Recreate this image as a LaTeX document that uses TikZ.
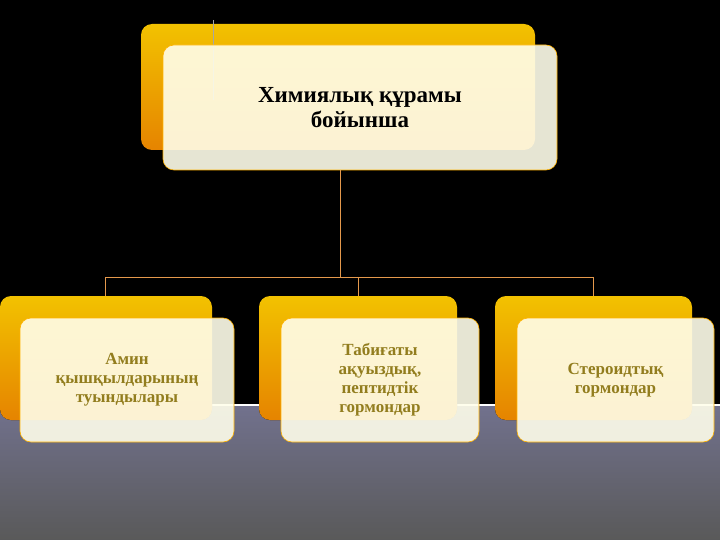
\documentclass[tikz,border=0pt]{standalone}
\usepackage{fontspec}
\setmainfont{Liberation Serif}
\begin{document}
\begin{tikzpicture}[x=1pt,y=-1pt,
  back/.style={rounded corners=11pt,top color=orange!40!yellow!95!black,bottom color=orange!85!yellow!90!black,draw=none},
  card/.style={rounded corners=11pt,fill=white!92!yellow,fill opacity=0.9,draw=orange!60!yellow,line width=0.6pt,text opacity=1,align=center,font=\bfseries},
  conn/.style={draw=orange!50!brown!80!white,line width=0.6pt}]
\useasboundingbox (0,0) rectangle (720,540);
\fill[black] (0,0) rectangle (720,405);
\shade[top color=gray!45!blue!20!gray,bottom color=gray!70!black] (0,405) rectangle (720,540);
\draw[white,line width=1.5pt] (0,405) -- (720,405);
% top
\fill[back] (141,24) rectangle (535,150);
\draw[gray!70,line width=0.6pt] (213,20) -- (213,100);
\node[card,minimum width=394pt,minimum height=125pt,font=\bfseries\fontsize{23}{25}\selectfont] (top) at (360,107.5) {Химиялық құрамы\\бойынша};
% bottom backs
\fill[back] (0,296) rectangle (212,420);
\fill[back] (259,296) rectangle (457,420);
\fill[back] (495,296) rectangle (692,420);
% connectors
\coordinate (j) at (340,277);
\coordinate (jl) at (105,277);
\coordinate (jm) at (358,277);
\coordinate (jr) at (593,277);
\draw[conn] (340,170) -- (j);
\draw[conn] (jl) -- (jr);
\coordinate (bl) at (105,296);
\coordinate (bm) at (358,296);
\coordinate (br) at (593,296);
\draw[conn] (jl) -- (bl);
\draw[conn] (jm) -- (bm);
\draw[conn] (jr) -- (br);
\tikzset{bcard/.style={card,text=olive!70!orange!80!black,font=\bfseries\fontsize{17}{19}\selectfont,minimum height=124pt}}
\node[bcard,minimum width=214pt] (a) at (127,380) {Амин\\қышқылдарының\\туындылары};
\node[bcard,minimum width=198pt] (b) at (380,380) {Табиғаты\\ақуыздық,\\пептидтік\\гормондар};
\node[bcard,minimum width=197pt] (c) at (615.5,380) {Стероидтық\\гормондар};
\end{tikzpicture}
\end{document}
